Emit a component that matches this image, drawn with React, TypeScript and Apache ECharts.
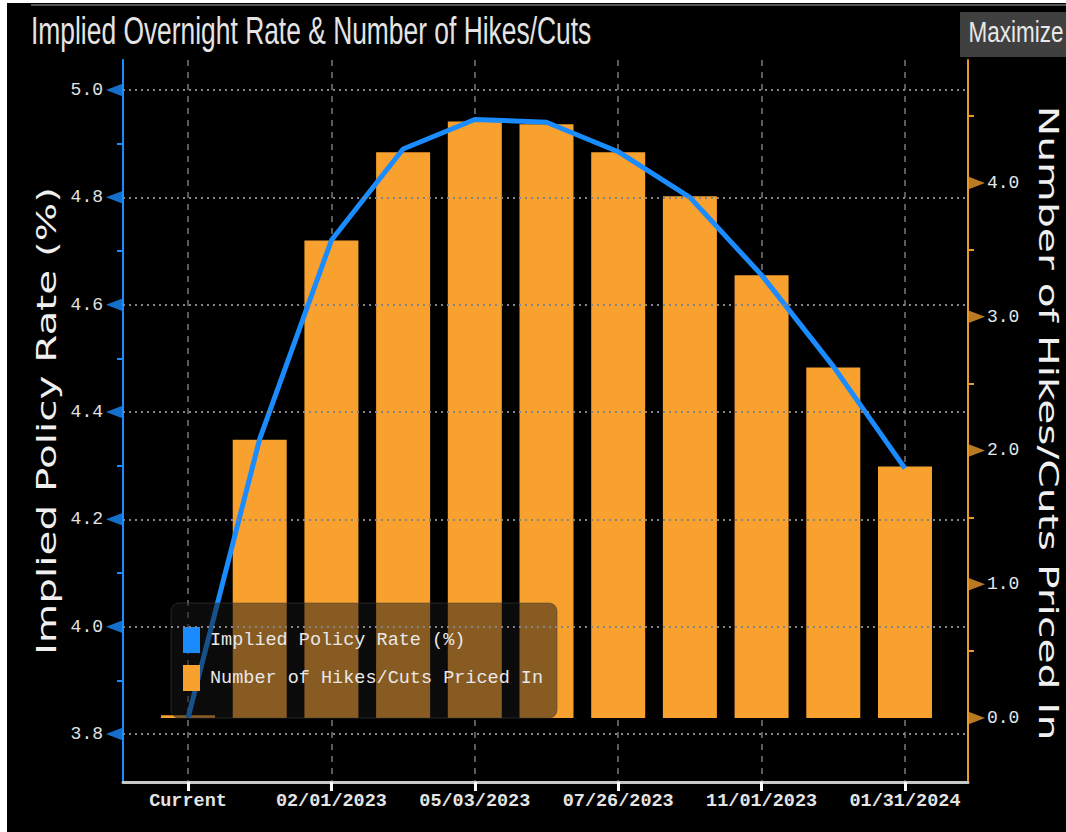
import React, { useEffect, useRef } from 'react';
import * as echarts from 'echarts';

const TITLE = 'Implied Overnight Rate & Number of Hikes/Cuts';
const LEFT_NAME = 'Implied Policy Rate (%)';
const RIGHT_NAME = 'Number of Hikes/Cuts Priced In';
const MEETINGS = ['Current', '12/14/2022', '02/01/2023', '03/22/2023', '05/03/2023', '06/14/2023', '07/26/2023', '09/20/2023', '11/01/2023', '12/13/2023', '01/31/2024'];
const IMPLIED_RATE = [3.83, 4.35, 4.72, 4.89, 4.945, 4.94, 4.885, 4.8, 4.655, 4.485, 4.295];
const HIKES_CUTS = [0.02, 2.08, 3.57, 4.23, 4.46, 4.44, 4.23, 3.9, 3.31, 2.62, 1.88];
const RATE_LEVELS = [3.8, 4.0, 4.2, 4.4, 4.6, 4.8, 5.0];
const HIKE_LEVELS = [0, 1, 2, 3, 4];
const LABELED_MEETINGS = [0, 2, 4, 6, 8, 10];
const RATE_RANGE = [3.7106, 5.0559];
const HIKE_RANGE = [-0.4785, 4.9196];
const X_RANGE = [-0.907, 10.879];

const BLUE = '#1a8cff';
const ORANGE = '#f8a12e';
const AXIS_ORANGE = '#e8992c';

const isLevel = (v: number, arr: number[]) => arr.some((l) => Math.abs(l - v) < 1e-6);

export default function App() {
  const ref = useRef<HTMLDivElement>(null);
  useEffect(() => {
    if (!ref.current) return;
    const chart = echarts.init(ref.current, undefined, { renderer: 'svg' });
    const option: any = {
      animation: false,
      backgroundColor: '#000',
      grid: { left: 116, top: 57, width: 845, height: 722, containLabel: false },
      legend: {
        orient: 'vertical',
        left: 164,
        top: 600,
        data: [
          { name: LEFT_NAME, icon: 'rect' },
          { name: RIGHT_NAME, icon: 'rect' },
        ],
        itemWidth: 17,
        itemHeight: 26,
        itemGap: 12,
        padding: [24, 14, 27, 12],
        backgroundColor: 'rgba(22,22,22,0.5)',
        borderColor: 'rgba(70,70,70,0.5)',
        borderWidth: 1,
        borderRadius: 8,
        itemStyle: { borderWidth: 0 },
        textStyle: { color: '#e8e8e8', fontFamily: 'Liberation Mono', fontSize: 18.5, padding: [0, 0, 0, 5] },
        selectedMode: false,
      },
      xAxis: {
        type: 'value',
        min: X_RANGE[0],
        max: X_RANGE[1],
        splitNumber: 6,
        axisLine: { onZero: false, lineStyle: { color: '#c8c8c8', width: 3 } },
        axisTick: { show: true, customValues: LABELED_MEETINGS, length: 9, lineStyle: { color: '#ffffff', width: 3 } },
        axisLabel: {
          customValues: LABELED_MEETINGS,
          formatter: (v: number) => MEETINGS[Math.round(v)] ?? '',
          margin: 10,
          color: '#e4e4e4',
          fontFamily: 'Liberation Mono',
          fontSize: 18.5,
          fontWeight: 'bold',
        },
        splitLine: { show: true, lineStyle: { color: '#7a7a7a', type: [6, 6], width: 1.5 } },
      },
      yAxis: [
        {
          type: 'value',
          position: 'left',
          min: RATE_RANGE[0],
          max: RATE_RANGE[1],
          splitNumber: 6,
          axisLine: { show: true, onZero: false, lineStyle: { color: BLUE, width: 2 } },
          axisTick: { show: false },
          minorTick: { show: true, splitNumber: 2, length: 6, lineStyle: { color: BLUE, width: 2 } },
          splitLine: { show: false },
          minorSplitLine: { show: false },
          axisLabel: {
            margin: 20,
            formatter: (v: number) => (isLevel(v, RATE_LEVELS) ? v.toFixed(1) : ''),
            fontFamily: 'Liberation Mono',
            fontSize: 18,
            color: '#e2e2e2',
          },
        },
        {
          type: 'value',
          position: 'right',
          min: HIKE_RANGE[0],
          max: HIKE_RANGE[1],
          splitNumber: 5,
          axisLine: { show: true, onZero: false, lineStyle: { color: AXIS_ORANGE, width: 2 } },
          axisTick: { show: false },
          minorTick: { show: true, splitNumber: 2, length: 6, lineStyle: { color: AXIS_ORANGE, width: 2 } },
          splitLine: { show: false },
          minorSplitLine: { show: false },
          axisLabel: {
            margin: 19,
            formatter: (v: number) => (isLevel(v, HIKE_LEVELS) ? v.toFixed(1) : ''),
            fontFamily: 'Liberation Mono',
            fontSize: 18,
            color: '#e2e6ea',
          },
        },
      ],
      graphic: [
        { type: 'line', shape: { x1: 24, y1: 2, x2: 1059, y2: 2 }, style: { stroke: '#555555', lineWidth: 2 } },
        {
          type: 'text', x: 24, y: 28, scaleY: 1.48,
          style: { text: TITLE, fill: '#e4e4e4', font: '26.4px "Liberation Sans"', textAlign: 'left', textVerticalAlign: 'middle', align: 'left', verticalAlign: 'middle' },
        },
        { type: 'rect', shape: { x: 953, y: 9, width: 106, height: 45 }, style: { fill: '#404040' } },
        {
          type: 'text', x: 1009, y: 29, scaleY: 1.27,
          style: { text: 'Maximize', fill: '#e8e8e8', font: '22.5px "Liberation Sans"', textAlign: 'center', textVerticalAlign: 'middle', align: 'center', verticalAlign: 'middle' },
        },
        {
          type: 'text', x: 40, y: 418, rotation: Math.PI / 2, scaleX: 1.5,
          style: { text: LEFT_NAME, fill: '#f0f0f0', font: '27px "DejaVu Sans"', textAlign: 'center', textVerticalAlign: 'middle', align: 'center', verticalAlign: 'middle' },
        },
        {
          type: 'text', x: 1041, y: 420, rotation: -Math.PI / 2, scaleX: 1.57,
          style: { text: RIGHT_NAME, fill: '#f0f0f0', font: '26px "DejaVu Sans"', textAlign: 'center', textVerticalAlign: 'middle', align: 'center', verticalAlign: 'middle' },
        },
      ],
      series: [
        {
          name: 'gridlines',
          type: 'line',
          yAxisIndex: 0,
          data: [],
          z: 1,
          silent: true,
          markLine: {
            silent: true,
            symbol: ['none', 'none'],
            label: { show: false },
            emphasis: { disabled: true },
            lineStyle: { color: '#858585', type: [2, 4], width: 2 },
            data: RATE_LEVELS.map((v) => ({ yAxis: v })),
          },
        },
        {
          name: RIGHT_NAME,
          type: 'bar',
          yAxisIndex: 1,
          barWidth: 54,
          data: HIKES_CUTS.map((v, i) => [i, v]),
          itemStyle: { color: ORANGE },
          z: 2,
        },
        {
          name: LEFT_NAME,
          type: 'line',
          yAxisIndex: 0,
          data: IMPLIED_RATE.map((v, i) => [i, v]),
          symbol: 'none',
          showSymbol: false,
          lineStyle: { color: BLUE, width: 5 },
          itemStyle: { color: BLUE },
          z: 3,
        },
        {
          name: 'leftMarkers',
          type: 'scatter',
          yAxisIndex: 0,
          clip: false,
          silent: true,
          symbol: 'triangle',
          symbolSize: [13, 17],
          symbolRotate: 90,
          symbolOffset: [-8.5, 0],
          itemStyle: { color: BLUE },
          data: RATE_LEVELS.map((v) => [X_RANGE[0], v]),
          z: 5,
        },
        {
          name: 'rightMarkers',
          type: 'scatter',
          yAxisIndex: 1,
          clip: false,
          silent: true,
          symbol: 'triangle',
          symbolSize: [13, 17],
          symbolRotate: -90,
          symbolOffset: [8.5, 0],
          itemStyle: { color: AXIS_ORANGE },
          data: HIKE_LEVELS.map((v) => [X_RANGE[1], v]),
          z: 5,
        },
      ],
    };
    chart.setOption(option);
    return () => chart.dispose();
  }, []);
  return (
    <div
      ref={ref}
      style={{ position: 'absolute', left: 7, top: 3, width: 1059, height: 829, background: '#000' }}
    />
  );
}
